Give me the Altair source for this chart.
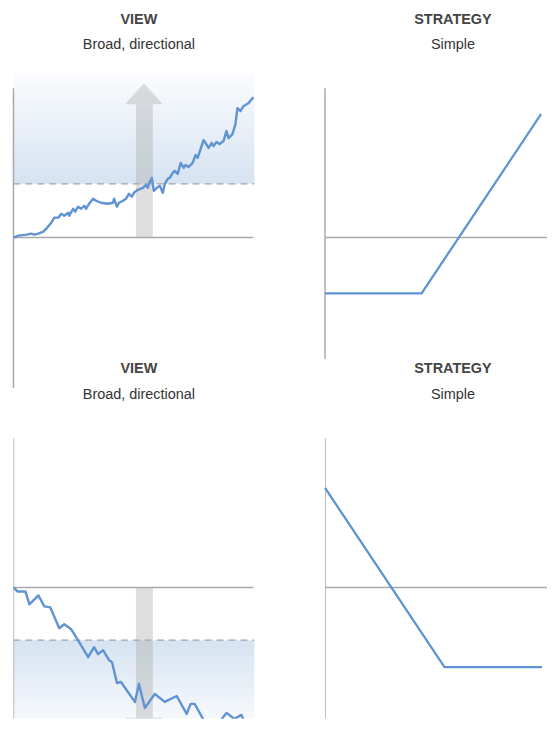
import altair as alt
import pandas as pd

# ---- data (chart units; x = time / price, y = return / payoff, 0 = start level) ----
up_x = [0, 5, 13, 18, 21, 25, 30, 33, 38, 41, 45, 48, 51, 55, 56, 60, 62, 65, 68, 71,
        73, 76, 80, 83, 88, 95, 100, 101, 104, 106, 110, 113, 116, 119, 121, 125, 130,
        133, 135, 136, 139, 141, 144, 147, 150, 152, 155, 157, 160, 162, 165, 168, 171,
        173, 176, 180, 183, 185, 188, 191, 193, 196, 199, 201, 204, 207, 211, 214, 216,
        220, 223, 225, 228, 231, 236, 241]
up_y = [0, 2, 3, 4, 3, 4, 6, 9, 15, 20, 20, 24, 22, 25, 22, 29, 26, 31, 29, 32,
        29, 34, 39, 37, 35, 34, 35, 39, 31, 35, 37, 39, 44, 41, 45, 48, 50,
        53, 50, 54, 60, 47, 50, 52, 45, 54, 59, 60, 65, 67, 64, 75, 70,
        73, 71, 75, 83, 80, 89, 98, 95, 90, 95, 92, 96, 94, 97, 107, 100,
        104, 114, 130, 127, 132, 135, 141]

down_x = [0, 4, 12, 16, 25, 31, 37, 46, 51, 58, 66, 75, 81, 85, 90, 96, 99, 104, 108,
          115, 122, 126, 132, 142, 152, 164, 174, 178, 182, 196, 200, 204, 214, 222,
          229, 236]
down_y = [0, -4, -4, -17, -8, -19, -20, -41, -37, -42, -55, -70, -60, -67, -63, -73,
          -75, -96, -95, -105, -115, -97, -121, -107, -115, -109, -127, -117, -117,
          -142, -134, -139, -126, -132, -128, -146]

call_x = [0, 97, 217]
call_y = [-56, -56, 124]
put_x = [0, 120, 218]
put_y = [100, -80, -80]

titles = ["VIEW", "STRATEGY"]
subtitles = ["Broad, directional", "Simple"]

# arrow: shaft (x range, from 0 to base) and head triangle (x, tip level)
shaft_x = [123, 140]
head_x = [112, 131, 150]
up_base, up_tip = 134, 155
dn_base, dn_tip = -131, -152

BLUE = "#5f93d3"
AXIS = "#a9a9a9"
FONT = "Liberation Sans"


def title(i, dx):
    return alt.Title(titles[i], subtitle=subtitles[i], fontSize=14.5, subtitleFontSize=14.5,
                     fontWeight="bold", subtitleFontWeight="normal", color="#444444",
                     subtitleColor="#333333", font=FONT, subtitleFont=FONT,
                     anchor="middle", dx=dx, offset=21, subtitlePadding=11)


def scales(xd, yd):
    return (alt.Scale(domain=xd, nice=False, zero=False),
            alt.Scale(domain=yd, nice=False, zero=False))


def axes_layer(xs, ys, v_top, v_bot, h_end, clip):
    vdf = pd.DataFrame({"x": [0], "y": [v_top], "y2": [v_bot]})
    hdf = pd.DataFrame({"x": [0], "x2": [h_end], "y": [0]})
    v = alt.Chart(vdf).mark_rule(color=AXIS, strokeWidth=1.5, clip=clip).encode(
        x=alt.X("x:Q", scale=xs, axis=None), y=alt.Y("y:Q", scale=ys, axis=None), y2="y2:Q")
    h = alt.Chart(hdf).mark_rule(color=AXIS, strokeWidth=1.5).encode(
        x=alt.X("x:Q", scale=xs, axis=None), x2="x2:Q", y=alt.Y("y:Q", scale=ys, axis=None))
    return [v, h]


def view_panel(lx, ly, dash_y, grad_far, base, tip, yd, v_bot, up, h, clip):
    xs, ys = scales([0, 244], yd)
    if up:
        grad = alt.Gradient(gradient="linear",
                            stops=[alt.GradientStop(color="#d6e3f1", offset=0),
                                   alt.GradientStop(color="#fbfcfe", offset=1)],
                            x1=0, x2=0, y1=1, y2=0)
    else:
        grad = alt.Gradient(gradient="linear",
                            stops=[alt.GradientStop(color="#d6e3f1", offset=0),
                                   alt.GradientStop(color="#f6f9fc", offset=1)],
                            x1=0, x2=0, y1=0, y2=1)
    gdf = pd.DataFrame({"x": [0, 242], "y": [grad_far, grad_far], "y2": [dash_y, dash_y]})
    g = alt.Chart(gdf).mark_area(color=grad, clip=clip).encode(
        x=alt.X("x:Q", scale=xs, axis=None), y=alt.Y("y:Q", scale=ys, axis=None), y2="y2:Q")
    ddf = pd.DataFrame({"x": [0], "x2": [242], "y": [dash_y]})
    d = alt.Chart(ddf).mark_rule(color="#a3a3a3", strokeWidth=1.3, strokeDash=[7, 5]).encode(
        x=alt.X("x:Q", scale=xs, axis=None), x2="x2:Q", y=alt.Y("y:Q", scale=ys, axis=None))
    sdf = pd.DataFrame({"x": [shaft_x[0]], "x2": [shaft_x[1]], "y": [0], "y2": [base]})
    s = alt.Chart(sdf).mark_rect(color="#a8a8a8", opacity=0.38, clip=clip).encode(
        x=alt.X("x:Q", scale=xs, axis=None), x2="x2:Q",
        y=alt.Y("y:Q", scale=ys, axis=None), y2="y2:Q")
    hdf = pd.DataFrame({"x": head_x, "y": [base, tip, base], "y2": [base, base, base]})
    hd = alt.Chart(hdf).mark_area(color="#a8a8a8", opacity=0.38, clip=clip).encode(
        x=alt.X("x:Q", scale=xs, axis=None), y=alt.Y("y:Q", scale=ys, axis=None), y2="y2:Q")
    ldf = pd.DataFrame({"x": lx, "y": ly})
    line = alt.Chart(ldf).mark_line(color=BLUE, strokeWidth=2.4, strokeJoin="round",
                                    clip=clip).encode(
        x=alt.X("x:Q", scale=xs, axis=None), y=alt.Y("y:Q", scale=ys, axis=None))
    ax = axes_layer(xs, ys, 150, v_bot, 241, clip)
    return alt.layer(g, d, *ax, s, hd, line).properties(width=244, height=h, title=title(0, 4))


def strategy_panel(px, py, yd, v_bot, h, clip):
    xs, ys = scales([0, 223], yd)
    ax = axes_layer(xs, ys, 150, v_bot, 223, clip)
    pdf = pd.DataFrame({"x": px, "y": py})
    p = alt.Chart(pdf).mark_line(color=BLUE, strokeWidth=2.3).encode(
        x=alt.X("x:Q", scale=xs, axis=None), y=alt.Y("y:Q", scale=ys, axis=None))
    return alt.layer(*ax, p).properties(width=223, height=h, title=title(1, 17))


tl = view_panel(up_x, up_y, 54, 165, up_base, up_tip, [-121, 165], -151, True, 286, False)
tr = strategy_panel(call_x, call_y, [-121, 165], -122, 286, False)
bl = view_panel(down_x, down_y, -53, -132, dn_base, dn_tip, [-132, 165], -160, False, 297, True)
br = strategy_panel(put_x, put_y, [-132, 165], -160, 297, True)

chart = alt.concat(tl, tr, bl, br, columns=2, spacing={"row": 65.5, "column": 69},
                   bounds="flush").properties(
    padding={"left": 3.5, "top": 2, "right": 0, "bottom": 0}
).configure_view(stroke=None)

chart.save("out.html", embed_options={"renderer": "svg", "actions": False})
